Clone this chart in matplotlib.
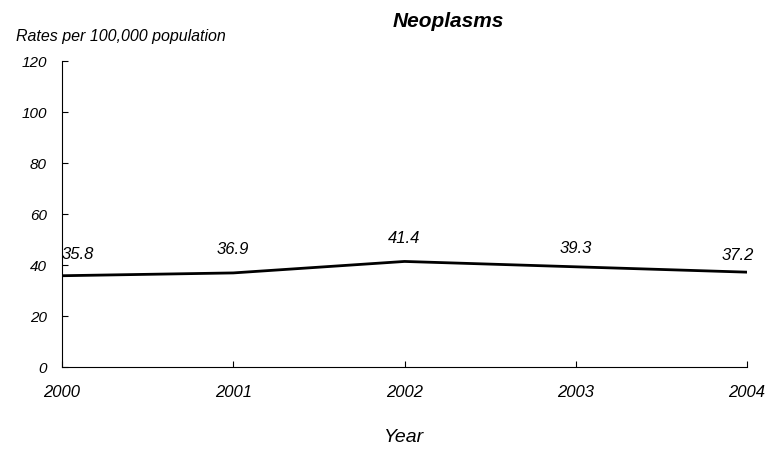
import matplotlib.pyplot as plt

years = ['2000', '2001', '2002', '2003', '2004']
rates = [35.8, 36.9, 41.4, 39.3, 37.2]
yticks = [0, 20, 40, 60, 80, 100, 120]

plt.rcParams['font.family'] = 'Liberation Sans'
plt.rcParams['font.style'] = 'italic'

fig = plt.figure(figsize=(7.67, 4.5), dpi=100)
ax = fig.add_axes([0.0808, 0.1844, 0.8932, 0.68])

x = list(range(len(years)))
ax.plot(x, rates, color='black', linewidth=2)

# label placement (offset points)
offsets = [(0, 15), (0, 17), (0, 16.5), (0, 13), (-7, 12)]
aligns = ['left', 'center', 'center', 'center', 'center']
for i, v in enumerate(rates):
    ax.annotate(f'{v:.1f}', xy=(i, v), xytext=offsets[i], textcoords='offset points',
                ha=aligns[i], va='center', fontsize=12)

ax.set_xlim(0, len(years) - 1)
ax.set_ylim(0, 120)
ax.set_xticks(x)
ax.set_xticklabels(years)
ax.set_yticks(yticks)
ax.set_yticklabels([str(t) for t in yticks])

ax.spines['top'].set_visible(False)
ax.spines['right'].set_visible(False)
ax.tick_params(axis='both', direction='in', length=4)
ax.tick_params(axis='x', pad=13, labelsize=12)
ax.tick_params(axis='y', pad=11, labelsize=11)

fig.text(0.584, 0.953, 'Neoplasms', ha='center', va='center', fontsize=15, fontweight='bold')
fig.text(0.021, 0.918, 'Rates per 100,000 population', ha='left', va='center', fontsize=11.5)
fig.text(0.527, 0.027, 'Year', ha='center', va='center', fontsize=14)

fig.savefig('out.png', dpi=100)
